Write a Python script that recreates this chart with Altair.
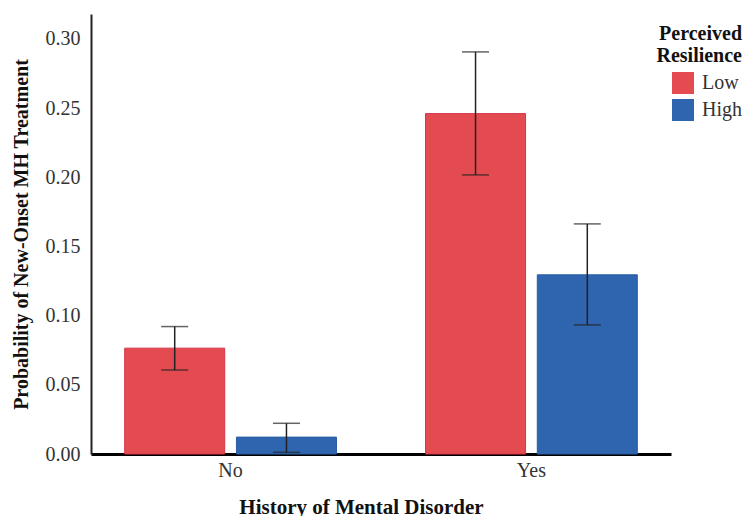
import altair as alt
import pandas as pd

history = ["No", "No", "Yes", "Yes"]
resilience = ["Low", "High", "Low", "High"]
prob = [0.0765, 0.0122, 0.2460, 0.1295]
lower = [0.0607, 0.0012, 0.2017, 0.0933]
upper = [0.0921, 0.0222, 0.2906, 0.1663]

df = pd.DataFrame({"History": history, "Resilience": resilience,
                   "Prob": prob, "Lower": lower, "Upper": upper})

serif = "Liberation Serif"
x_enc = alt.X("History:N", sort=["No", "Yes"],
              scale=alt.Scale(paddingInner=0.296, paddingOuter=0.112),
              axis=alt.Axis(title="History of Mental Disorder", labelAngle=0,
                            labelFont=serif, labelFontSize=20, labelColor="#333333",
                            labelPadding=6, ticks=False, domainColor="black",
                            domainWidth=3, titleFont=serif, titleFontSize=21,
                            titleFontWeight="bold", titleColor="#111111",
                            titlePadding=16, titleX=270, titleAnchor="middle"))
xoff = alt.XOffset("Resilience:N", sort=["Low", "High"],
                   scale=alt.Scale(paddingInner=0.105, paddingOuter=0))
y_scale = alt.Scale(domain=[0, 0.318], nice=False)

bars = alt.Chart(df).mark_bar(strokeWidth=1).encode(
    x=x_enc,
    xOffset=xoff,
    y=alt.Y("Prob:Q", scale=y_scale,
            axis=alt.Axis(title="Probability of New-Onset MH Treatment",
                          values=[0, 0.05, 0.10, 0.15, 0.20, 0.25, 0.30],
                          format=".2f", grid=False, ticks=False,
                          domainColor="#222222", domainWidth=2,
                          labelFont=serif, labelFontSize=20, labelColor="#333333",
                          labelPadding=11, titleFont=serif, titleFontSize=20,
                          titleFontWeight="bold", titleColor="#111111",
                          titlePadding=14)),
    color=alt.Color("Resilience:N", sort=["Low", "High"],
                    scale=alt.Scale(domain=["Low", "High"], range=["#E34B50", "#2F64AE"]),
                    legend=alt.Legend(title=["Perceived", "Resilience"], orient="none",
                                      legendX=565, legendY=10,
                                      titleFont=serif, titleFontSize=20,
                                      titleFontWeight="bold", titleColor="#111111",
                                      titleAlign="right", titleAnchor="end",
                                      titleLineHeight=22, titlePadding=6,
                                      labelFont=serif, labelFontSize=20,
                                      labelColor="#333333", symbolType="square",
                                      symbolSize=484, symbolStrokeWidth=0,
                                      symbolOffset=10,
                                      rowPadding=5, labelOffset=8)),
    stroke=alt.Color("Resilience:N", sort=["Low", "High"],
                     scale=alt.Scale(domain=["Low", "High"], range=["#D63447", "#2A5CA6"]),
                     legend=None),
)

rules = alt.Chart(df).mark_rule(color="#222222", strokeWidth=1.5).encode(
    x=alt.X("History:N", sort=["No", "Yes"]),
    xOffset=alt.XOffset("Resilience:N", sort=["Low", "High"]),
    y=alt.Y("Lower:Q", scale=y_scale),
    y2="Upper:Q",
)
caps_hi = alt.Chart(df).mark_tick(color="#222222", size=27, thickness=1.5).encode(
    x=alt.X("History:N", sort=["No", "Yes"]),
    xOffset=alt.XOffset("Resilience:N", sort=["Low", "High"]),
    y=alt.Y("Upper:Q", scale=y_scale),
)
caps_lo = alt.Chart(df).mark_tick(color="#222222", size=27, thickness=1.5).encode(
    x=alt.X("History:N", sort=["No", "Yes"]),
    xOffset=alt.XOffset("Resilience:N", sort=["Low", "High"]),
    y=alt.Y("Lower:Q", scale=y_scale),
)

chart = alt.layer(bars, rules, caps_hi, caps_lo).properties(
    width=580, height=440,
    background="white",
    autosize=alt.AutoSizeParams(type="none"),
    padding={"left": 83, "top": 6, "right": 76, "bottom": 62},
).configure_view(strokeWidth=0, stroke="transparent")

chart.save("out.html", embed_options={"renderer": "svg", "actions": False})
